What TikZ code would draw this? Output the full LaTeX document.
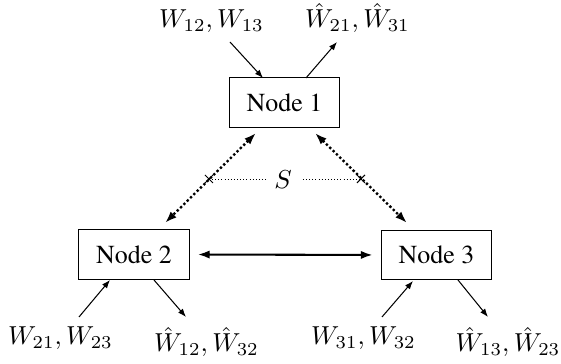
\documentclass[tikz,border=0pt]{standalone}
\usepackage[T1]{fontenc}
\usepackage{times}
\usetikzlibrary{arrows.meta}
\tikzset{
  box/.style={draw, line width=0.4pt, minimum width=42.7pt, minimum height=18.9pt, inner sep=0pt, font=\fontsize{10}{12}\selectfont},
  lab/.style={inner sep=0pt, anchor=base},
  thinarrow/.style={line width=0.4pt, -{Latex[length=3.2pt,width=2.4pt]}},
  thickarrow/.style={line width=0.8pt, {Latex[length=4.6pt,width=3.2pt]}-{Latex[length=4.6pt,width=3.2pt]}},
  dotarrow/.style={line width=0.9pt, dash pattern=on 0.9pt off 0.9pt, {Latex[length=4.6pt,width=3.2pt]}-{Latex[length=4.6pt,width=3.2pt]}},
  fineline/.style={line width=0.3pt, dash pattern=on 0.3pt off 0.9pt},
  crossmark/.style={line width=0.4pt}
}
\begin{document}
\begin{tikzpicture}[x=0.385pt, y=-0.385pt]
\useasboundingbox (0,0) rectangle (561,364);
% nodes
\node[box] (n1) at (284.5,102.5) {Node 1};
\node[box] (n2) at (134,254.5) {Node 2};
\node[box] (n3) at (436.5,255) {Node 3};
% labels
\node[lab] (l1in)  at (211.5,28) {$W_{12}, W_{13}$};
\node[lab] (l1out) at (357.5,28) {$\hat{W}_{21}, \hat{W}_{31}$};
\node[lab] (l2in)  at (60.5,345) {$W_{21}, W_{23}$};
\node[lab] (l2out) at (206.5,352) {$\hat{W}_{12}, \hat{W}_{32}$};
\node[lab] (l3in)  at (363.5,345) {$W_{31}, W_{32}$};
\node[lab] (l3out) at (508,352) {$\hat{W}_{13}, \hat{W}_{23}$};
% endpoints of thin arrows
\coordinate (a1s) at (230,42);  \coordinate (a1e) at (263,78);
\coordinate (b1s) at (306,78);  \coordinate (b1e) at (337,42);
\coordinate (a2s) at (79,317);  \coordinate (a2e) at (110,280);
\coordinate (b2s) at (154,280); \coordinate (b2e) at (186,317);
\coordinate (a3s) at (382,317); \coordinate (a3e) at (413,281);
\coordinate (b3s) at (458,280); \coordinate (b3e) at (488,317);
\draw[thinarrow] (a1s) -- (a1e);
\draw[thinarrow] (b1s) -- (b1e);
\draw[thinarrow] (a2s) -- (a2e);
\draw[thinarrow] (b2s) -- (b2e);
\draw[thinarrow] (a3s) -- (a3e);
\draw[thinarrow] (b3s) -- (b3e);
% thick horizontal
\draw[thickarrow, shorten <=3pt, shorten >=3pt] (n2.east) -- (n3.west);
% dotted links
\coordinate (d1a) at (256,133); \coordinate (d1b) at (165,223);
\coordinate (d2a) at (315,133); \coordinate (d2b) at (407,223);
\draw[dotarrow] (d1a) -- (d1b);
\draw[dotarrow] (d2a) -- (d2b);
% S and crosses
\node[inner sep=0pt] (S) at (283,180) {$S$};
\coordinate (c1) at (209,179);
\coordinate (c2) at (361,179);
\draw[crossmark] ([shift={(-4,-4)}]c1) -- ([shift={(4,4)}]c1);
\draw[crossmark] ([shift={(-4,4)}]c1) -- ([shift={(4,-4)}]c1);
\draw[crossmark] ([shift={(-4,-4)}]c2) -- ([shift={(4,4)}]c2);
\draw[crossmark] ([shift={(-4,4)}]c2) -- ([shift={(4,-4)}]c2);
\coordinate (s1) at (266,179); \coordinate (s2) at (303,179);
\draw[fineline] (c1) -- (s1);
\draw[fineline] (s2) -- (c2);
\end{tikzpicture}
\end{document}
